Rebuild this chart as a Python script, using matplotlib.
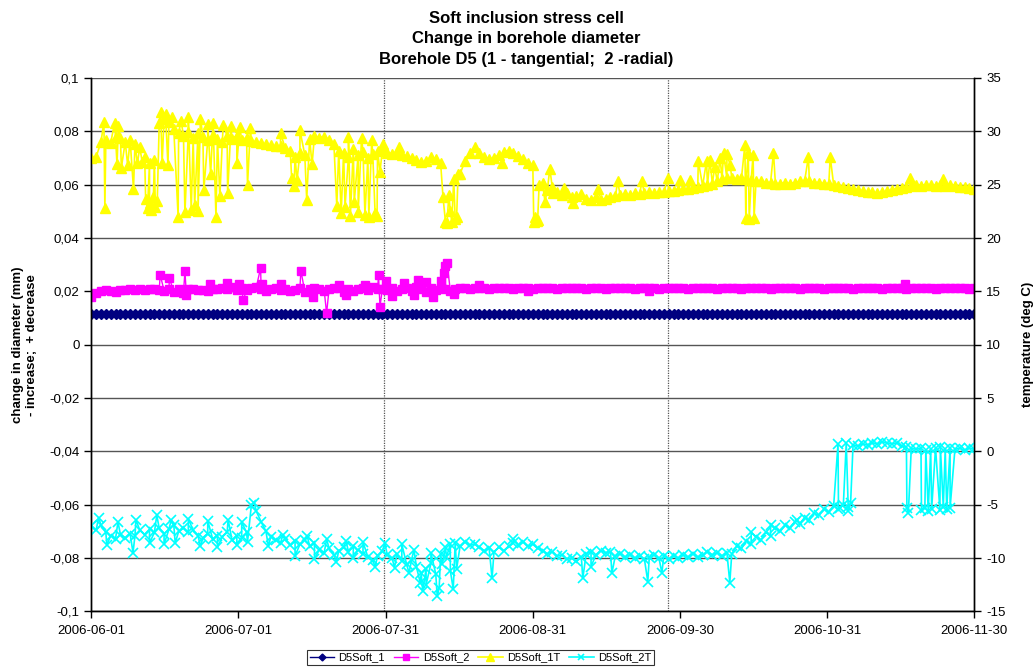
import numpy as np
import matplotlib
matplotlib.use("Agg")
import matplotlib.pyplot as plt

plt.rcParams['font.family'] = ['Liberation Sans', 'DejaVu Sans']

# x axis = days since 2006-06-01
tick_labels = ["2006-06-01", "2006-07-01", "2006-07-31", "2006-08-31",
               "2006-09-30", "2006-10-31", "2006-11-30"]
left_ticks = [0.1, 0.08, 0.06, 0.04, 0.02, 0, -0.02, -0.04, -0.06, -0.08, -0.1]
left_labels = ["0,1", "0,08", "0,06", "0,04", "0,02", "0", "-0,02", "-0,04",
               "-0,06", "-0,08", "-0,1"]
right_ticks = [35, 30, 25, 20, 15, 10, 5, 0, -5, -10, -15]
event_days = [60.3, 118.9]

# D5Soft_1 (mm), daily
soft1 = [
    0.0115, 0.0115, 0.0116, 0.0115, 0.0115, 0.0115, 0.0116, 0.0115, 0.0115, 0.0115,
    0.0115, 0.0116, 0.0115, 0.0115, 0.0115, 0.0115, 0.0116, 0.0115, 0.0115, 0.0115,
    0.0115, 0.0115, 0.0116, 0.0115, 0.0115, 0.0115, 0.0115, 0.0116, 0.0115, 0.0115,
    0.0115, 0.0115, 0.0115, 0.0116, 0.0115, 0.0115, 0.0115, 0.0115, 0.0116, 0.0115,
    0.0115, 0.0115, 0.0116, 0.0115, 0.0115, 0.0115, 0.0115, 0.0116, 0.0115, 0.0115,
    0.0115, 0.0116, 0.0115, 0.0115, 0.0115, 0.0116, 0.0115, 0.0115, 0.0115, 0.0115,
    0.0116, 0.0115, 0.0115, 0.0115, 0.0116, 0.0115, 0.0115, 0.0115, 0.0116, 0.0115,
    0.0115, 0.0115, 0.0116, 0.0115, 0.0115, 0.0116, 0.0115, 0.0115, 0.0115, 0.0116,
    0.0115, 0.0115, 0.0116, 0.0115, 0.0115, 0.0115, 0.0116, 0.0115, 0.0115, 0.0116,
    0.0115, 0.0115, 0.0115, 0.0116, 0.0115, 0.0115, 0.0116, 0.0115, 0.0115, 0.0115,
    0.0116, 0.0115, 0.0115, 0.0116, 0.0115, 0.0115, 0.0115, 0.0116, 0.0115, 0.0115,
    0.0116, 0.0115, 0.0115, 0.0115, 0.0116, 0.0115, 0.0116, 0.0115, 0.0115, 0.0116,
    0.0115, 0.0116, 0.0115, 0.0115, 0.0116, 0.0115, 0.0116, 0.0115, 0.0116, 0.0115,
    0.0116, 0.0115, 0.0116, 0.0116, 0.0115, 0.0116, 0.0115, 0.0116, 0.0116, 0.0115,
    0.0116, 0.0116, 0.0115, 0.0116, 0.0116, 0.0115, 0.0116, 0.0116, 0.0116, 0.0115,
    0.0116, 0.0116, 0.0116, 0.0115, 0.0116, 0.0116, 0.0116, 0.0116, 0.0115, 0.0116,
    0.0116, 0.0116, 0.0116, 0.0116, 0.0116, 0.0115, 0.0116, 0.0116, 0.0116, 0.0116,
    0.0116, 0.0116, 0.0116, 0.0116, 0.0116, 0.0116, 0.0116, 0.0116, 0.0116, 0.0116,
    0.0116, 0.0116, 0.0116,
]

# D5Soft_2 (mm), daily
soft2 = [
    0.0180, 0.0195, 0.0201, 0.0205, 0.0203, 0.0199, 0.0206, 0.0204, 0.0207, 0.0205,
    0.0208, 0.0206, 0.0209, 0.0207, 0.0205, 0.0203, 0.0208, 0.0197, 0.0210, 0.0195,
    0.0207, 0.0209, 0.0204, 0.0206, 0.0203, 0.0207, 0.0210, 0.0213, 0.0208, 0.0215,
    0.0206, 0.0212, 0.0204, 0.0211, 0.0215, 0.0209, 0.0202, 0.0207, 0.0211, 0.0204,
    0.0209, 0.0201, 0.0206, 0.0212, 0.0199, 0.0209, 0.0213, 0.0207, 0.0203, 0.0208,
    0.0213, 0.0211, 0.0198, 0.0207, 0.0203, 0.0209, 0.0212, 0.0206, 0.0215, 0.0208,
    0.0210, 0.0205, 0.0213, 0.0201, 0.0210, 0.0214, 0.0203, 0.0216, 0.0208, 0.0198,
    0.0212, 0.0205, 0.0214, 0.0209, 0.0203, 0.0210, 0.0211, 0.0212, 0.0210, 0.0211,
    0.0212, 0.0211, 0.0210, 0.0212, 0.0211, 0.0211, 0.0212, 0.0210, 0.0211, 0.0212,
    0.0211, 0.0210, 0.0212, 0.0211, 0.0211, 0.0212, 0.0210, 0.0211, 0.0212, 0.0211,
    0.0211, 0.0212, 0.0210, 0.0211, 0.0212, 0.0211, 0.0210, 0.0212, 0.0211, 0.0211,
    0.0212, 0.0211, 0.0210, 0.0211, 0.0212, 0.0211, 0.0211, 0.0210, 0.0212, 0.0211,
    0.0211, 0.0212, 0.0211, 0.0210, 0.0211, 0.0212, 0.0211, 0.0211, 0.0212, 0.0210,
    0.0211, 0.0212, 0.0211, 0.0211, 0.0210, 0.0212, 0.0211, 0.0211, 0.0212, 0.0211,
    0.0210, 0.0211, 0.0212, 0.0211, 0.0211, 0.0212, 0.0210, 0.0211, 0.0212, 0.0211,
    0.0211, 0.0210, 0.0212, 0.0211, 0.0211, 0.0212, 0.0211, 0.0210, 0.0211, 0.0212,
    0.0211, 0.0211, 0.0212, 0.0210, 0.0211, 0.0212, 0.0211, 0.0211, 0.0210, 0.0212,
    0.0211, 0.0211, 0.0212, 0.0211, 0.0210, 0.0211, 0.0212, 0.0211, 0.0211, 0.0212,
    0.0211, 0.0210, 0.0211,
]
soft2_spikes = [
    (14.2, 0.0262), (16.1, 0.0250), (19.3, 0.0275), (19.6, 0.0188), (24.5, 0.0226),
    (28.0, 0.0230), (30.5, 0.0228), (31.3, 0.0167), (34.9, 0.0288), (35.2, 0.0228),
    (39.0, 0.0226), (43.2, 0.0278), (45.6, 0.0180), (48.5, 0.0118), (51.0, 0.0222),
    (52.5, 0.0185), (56.5, 0.0225), (59.2, 0.0260), (59.5, 0.0143), (60.8, 0.0240),
    (62.0, 0.0183), (64.5, 0.0232), (66.5, 0.0188), (67.3, 0.0242), (69.0, 0.0235),
    (70.5, 0.0178), (72.0, 0.0240), (72.6, 0.0270), (73.0, 0.0295), (73.3, 0.0308),
    (74.8, 0.0190), (80.0, 0.0223), (90.0, 0.0202), (115.0, 0.0203), (167.7, 0.0228),
]

# D5Soft_1T (deg C), daily
temp1 = [
    27.5, 27.6, 29.0, 29.2, 28.9, 29.5, 29.4, 29.0, 29.2, 28.8,
    28.5, 27.6, 27.0, 27.3, 30.8, 31.2, 30.9, 30.2, 29.8, 29.6,
    29.9, 29.4, 29.8, 29.5, 29.2, 29.7, 29.3, 29.0, 29.6, 29.3,
    29.6, 29.2, 29.4, 29.1, 29.0, 28.9, 28.8, 28.7, 28.6, 28.6,
    28.4, 28.2, 27.6, 28.0, 27.8, 29.3, 29.6, 29.4, 29.5, 29.2,
    28.8, 28.2, 28.0, 27.6, 28.3, 27.8, 28.1, 27.5, 27.9, 28.2,
    28.3, 28.0, 27.9, 28.0, 27.8, 27.7, 27.5, 27.3, 27.1, 27.2,
    27.6, 27.4, 27.0, 21.5, 22.5, 21.8, 26.0, 27.2, 28.0, 28.5,
    28.0, 27.6, 27.4, 27.5, 27.8, 28.1, 28.2, 28.0, 27.7, 27.4,
    27.0, 26.8, 21.7, 25.2, 24.5, 24.8, 24.3, 24.0, 24.2, 23.8,
    23.9, 24.1, 23.7, 23.6, 23.8, 23.6, 23.7, 23.8, 23.9, 24.0,
    24.1, 24.0, 24.2, 24.1, 24.2, 24.3, 24.2, 24.3, 24.3, 24.4,
    24.4, 24.5, 24.6, 24.6, 24.7, 24.8, 24.9, 25.0, 25.1, 25.3,
    25.5, 25.6, 25.6, 25.5, 25.6, 25.5, 25.4, 25.3, 25.3, 25.2,
    25.2, 25.1, 25.1, 25.2, 25.1, 25.2, 25.3, 25.3, 25.3, 25.2,
    25.2, 25.1, 25.1, 25.0, 24.9, 24.8, 24.7, 24.6, 24.5, 24.4,
    24.3, 24.3, 24.2, 24.3, 24.4, 24.5, 24.6, 24.7, 24.8, 24.9,
    25.0, 24.9, 25.0, 25.0, 24.9, 25.0, 24.9, 25.0, 24.9, 24.8,
    24.8, 24.7, 24.6,
]
temp1_spikes = [
    (2.6, 30.9), (2.8, 22.8), (4.8, 30.8), (5.3, 26.9), (5.6, 30.5), (6.2, 26.6),
    (7.5, 26.8), (8.7, 24.6), (9.5, 27.0), (10.5, 27.1),
    (11.2, 23.7), (11.6, 22.8), (12.0, 23.3), (12.4, 22.6), (12.8, 23.8), (13.2, 22.9),
    (13.6, 23.5), (14.3, 31.8), (14.6, 27.0), (15.3, 31.6), (15.8, 26.8), (16.6, 31.3),
    (17.9, 22.0), (18.5, 31.0), (19.3, 22.4), (20.0, 31.3), (20.6, 22.6), (21.3, 23.1),
    (22.0, 22.5), (22.5, 31.2), (23.2, 24.5), (24.0, 30.7), (24.6, 26.0), (25.1, 30.8),
    (25.7, 22.0), (26.5, 23.9), (27.2, 30.6), (28.1, 24.2), (28.8, 30.5), (30.0, 27.0),
    (30.6, 30.4), (32.2, 25.0), (32.8, 30.3), (39.0, 29.8),
    (41.3, 25.6), (41.8, 24.9), (42.4, 25.4), (43.0, 30.1), (44.4, 23.6), (45.5, 26.9),
    (50.6, 23.0), (51.5, 22.3), (52.3, 22.9), (53.0, 29.5), (53.4, 22.1), (54.2, 23.4),
    (55.0, 22.4), (55.7, 29.4), (56.4, 22.2), (57.2, 22.0), (57.8, 29.2), (58.5, 22.3),
    (58.9, 22.1), (59.5, 26.2), (60.2, 28.8), (63.5, 28.5),
    (72.5, 23.8), (73.3, 21.4), (73.7, 24.0), (74.3, 21.5), (74.7, 25.5), (75.3, 22.0),
    (75.6, 26.0), (84.6, 27.0),
    (91.2, 21.5), (91.5, 22.0), (91.8, 21.6), (92.3, 25.0), (93.5, 23.4), (94.5, 26.5),
    (95.2, 24.2), (97.5, 24.7), (99.3, 23.3), (104.5, 24.6), (108.5, 25.3), (113.5, 25.3),
    (118.8, 25.6), (121.3, 25.4), (123.4, 25.4), (125.1, 27.2), (126.8, 27.2),
    (127.5, 27.3), (128.5, 26.7), (129.6, 27.5), (130.3, 28.0), (131.0, 27.9),
    (131.7, 26.8), (134.7, 28.7), (134.9, 21.9), (135.4, 28.0), (135.6, 21.8),
    (136.4, 27.8), (136.6, 21.9), (140.6, 28.0), (147.8, 27.6), (152.3, 27.6),
    (168.7, 25.6), (175.6, 25.5),
]

# D5Soft_2T (deg C), daily
temp2 = [
    -7.0, -7.4, -6.9, -7.6, -7.9, -8.2, -7.8, -8.1, -7.7, -7.9,
    -7.4, -7.8, -7.3, -7.6, -7.2, -7.7, -7.3, -6.9, -7.5, -7.2,
    -7.6, -7.4, -7.9, -8.1, -7.7, -8.2, -7.9, -8.0, -7.6, -8.3,
    -7.9, -8.1, -7.6, -5.0, -5.6, -6.6, -7.5, -8.0, -8.3, -8.6,
    -8.2, -8.8, -8.4, -8.7, -8.3, -8.9, -8.6, -9.2, -9.5, -9.1,
    -9.7, -9.3, -9.0, -9.4, -8.9, -9.2, -9.6, -9.9, -10.2, -9.8,
    -9.3, -9.7, -10.0, -9.6, -10.3, -10.6, -10.2, -10.8, -11.4, -11.0,
    -10.5, -11.5, -9.6, -9.0, -8.7, -8.6, -8.9, -8.5, -8.8, -8.7,
    -9.0, -9.3, -9.1, -9.4, -9.0, -9.3, -8.9, -8.6, -8.8, -8.5,
    -8.9, -8.7, -9.1, -9.3, -9.6, -9.4, -9.8, -9.7, -10.1, -10.0,
    -10.3, -9.9, -9.6, -9.4, -9.7, -9.3, -9.5, -9.4, -9.8, -9.6,
    -9.9, -9.7, -10.0, -9.8, -10.1, -9.9, -9.7, -10.0, -9.8, -10.1,
    -9.8, -10.0, -9.7, -9.9, -9.6, -9.9, -9.7, -9.4, -9.7, -9.5,
    -9.8, -9.5, -9.6, -8.9, -9.1, -8.4, -8.7, -8.0, -8.3, -7.6,
    -7.9, -7.2, -7.5, -6.9, -7.2, -6.6, -6.8, -6.2, -6.4, -5.8,
    -6.0, -5.4, -5.7, -5.1, -5.4, -5.0, -5.2, 0.6, 0.5, 0.7,
    0.6, 0.8, 0.7, 0.9, 0.8, 0.7, 0.8, 0.5, 0.4, 0.3,
    0.2, 0.3, 0.1, 0.2, 0.3, 0.4, 0.2, 0.3, 0.2, 0.3,
    0.1, 0.3, 0.2,
]
temp2_spikes = [
    (1.5, -6.2), (3.2, -8.8), (5.5, -6.6), (8.6, -9.5), (9.2, -6.4), (12.0, -8.6),
    (13.5, -6.0), (15.0, -8.7), (16.5, -6.4), (17.3, -8.6), (20.0, -6.3), (22.5, -8.9),
    (24.0, -6.5), (26.0, -9.0), (28.2, -6.4), (30.0, -8.8), (31.0, -6.6), (32.2, -8.5),
    (33.6, -4.8), (36.5, -8.9), (39.5, -7.8), (42.0, -9.8), (44.5, -7.9), (46.0, -10.1),
    (48.5, -8.2), (50.5, -10.4), (52.5, -8.4), (54.0, -10.0), (56.0, -8.5), (58.5, -10.8),
    (60.5, -8.6), (62.5, -10.9), (64.0, -8.7), (65.5, -11.4), (66.5, -9.2), (67.8, -12.3),
    (68.3, -13.1), (69.0, -12.5), (70.0, -9.5), (71.3, -13.6), (71.7, -12.8),
    (72.3, -10.6), (73.2, -9.9), (74.0, -11.2), (74.6, -12.9), (75.3, -11.0),
    (82.6, -11.9), (87.0, -8.2), (101.3, -11.9), (103.0, -10.8), (107.3, -11.4),
    (114.7, -12.2), (117.6, -11.4), (131.6, -12.3), (136.0, -7.6), (140.0, -6.9),
    (145.5, -6.4), (153.9, 0.7), (154.3, -5.3), (155.6, 0.8), (156.0, -5.6),
    (156.5, -4.8), (168.1, -5.3), (168.4, -5.8), (171.1, -5.5), (171.8, -5.3),
    (172.5, -5.6), (173.2, -5.4), (174.9, -5.5), (175.6, -5.2), (176.3, -5.4),
    (177.0, -5.3),
]


def merged(base, spikes):
    d = np.concatenate([np.arange(len(base), dtype=float), [s[0] for s in spikes]])
    v = np.concatenate([np.asarray(base, dtype=float), [s[1] for s in spikes]])
    order = np.argsort(d, kind="stable")
    return d[order], v[order]


fig = plt.figure(figsize=(10.35, 6.71), dpi=100)
ax = fig.add_axes([0.0882, 0.0888, 0.8532, 0.7950])
ax2 = ax.twinx()

days1 = np.arange(len(soft1))
l1, = ax.plot(days1, soft1, color="#000080", marker="D", markersize=5, lw=1,
              label="D5Soft_1")
d2, v2 = merged(soft2, soft2_spikes)
l2, = ax.plot(d2, v2, color="#FF00FF", marker="s", markersize=5.5, lw=1,
              label="D5Soft_2")
d3, v3 = merged(temp1, temp1_spikes)
l3, = ax2.plot(d3, v3, color="#FFFF00", marker="^", markersize=7.5, lw=1.2,
               label="D5Soft_1T")
d4, v4 = merged(temp2, temp2_spikes)
l4, = ax2.plot(d4, v4, color="#00FFFF", marker="x", markersize=7, mew=1.2, lw=1.2,
               label="D5Soft_2T")

ax.set_xlim(0, 182)
ax.set_ylim(-0.1, 0.1)
ax2.set_ylim(-15, 35)
ax.set_xticks(np.linspace(0, 182, 7))
ax.set_xticklabels(tick_labels)
ax.set_yticks(left_ticks)
ax.set_yticklabels(left_labels)
ax2.set_yticks(right_ticks)
ax2.set_yticklabels([str(t) for t in right_ticks])

for y in left_ticks:
    ax.axhline(y, color="#555555", lw=1, zorder=0)
for d in event_days:
    ax.axvline(d, color="#555555", lw=0.9, ls=(0, (1, 1)), zorder=0)

for a in (ax, ax2):
    a.tick_params(direction="out", length=5, width=1, labelsize=9.5, color="black")
    for side in ("left", "right", "bottom"):
        a.spines[side].set_color("black")
        a.spines[side].set_linewidth(1)
    a.spines["top"].set_visible(False)
ax.tick_params(axis="x", pad=5)

ax.set_ylabel("change in diameter (mm)\n- increase;  + decrease", fontsize=9.5,
              fontweight="bold", labelpad=8)
ax2.set_ylabel("temperature (deg C)", fontsize=9.5, fontweight="bold", labelpad=12)

fig.text(0.5085, 1 - 39 / 671, "Soft inclusion stress cell\nChange in borehole diameter\n"
         "Borehole D5 (1 - tangential;  2 -radial)", ha="center", va="center",
         fontsize=12, fontweight="bold", linespacing=1.42)

leg = fig.legend(handles=[l1, l2, l3, l4], loc="center", ncol=4,
                 bbox_to_anchor=(0.4643, 0.0201), fontsize=8, frameon=True,
                 fancybox=False, edgecolor="black", handlelength=2.2,
                 handletextpad=0.4, columnspacing=0.8, borderpad=0.25,
                 markerscale=0.7)
leg.get_frame().set_linewidth(0.8)

fig.savefig("out.png", dpi=100)
